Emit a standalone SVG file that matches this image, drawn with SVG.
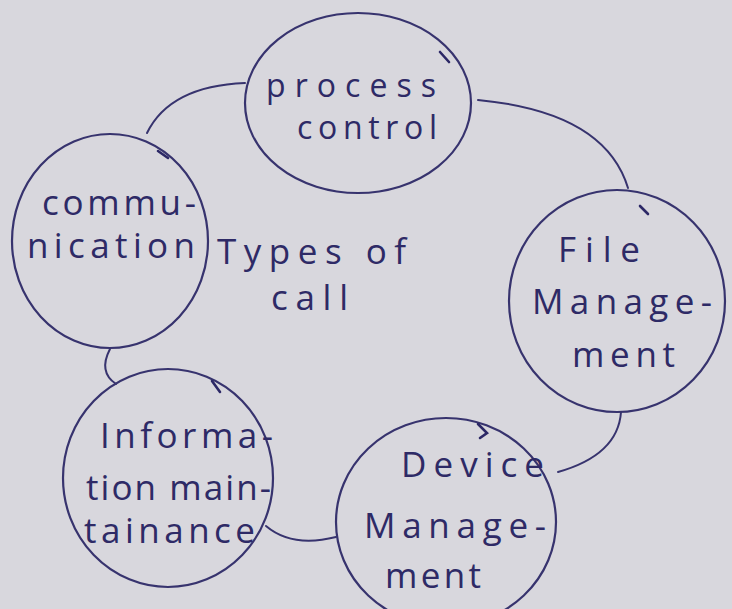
<svg xmlns="http://www.w3.org/2000/svg" width="732" height="609" viewBox="0 0 732 609">
  <style>
    .ring { fill: none; stroke: #37336e; stroke-width: 2.2; }
    .link { fill: none; stroke: #37336e; stroke-width: 2; stroke-linecap: round; }
    .tick { fill: none; stroke: #2c2866; stroke-width: 2.6; stroke-linecap: round; }
    .hand { font-family: "Open Sans", "DejaVu Sans", sans-serif; font-size: 35px; fill: #2e2a66; font-weight: 400; }
    .small { font-size: 32px; }
  </style>
  <!-- paper -->
  <rect x="0" y="0" width="732" height="609" fill="#d8d7dd"/>

  <!-- connectors between the five call types -->
  <g id="connectors">
    <path class="link" d="M147,133 Q170,86 245,83"/>
    <path class="link" d="M478,100 Q605,112 628,188"/>
    <path class="link" d="M621,412 Q618,455 558,472"/>
    <path class="link" d="M266,526 Q292,548 336,537"/>
    <path class="link" d="M110,349 Q98,372 116,384"/>
  </g>

  <g id="process-control">
    <ellipse class="ring" cx="358" cy="103" rx="113" ry="90"/>
    <path class="tick" d="M440,52 L449,62"/>
    <text class="hand small" x="266" y="97" textLength="170" lengthAdjust="spacing">process</text>
    <text class="hand small" x="297" y="139" textLength="140" lengthAdjust="spacing">control</text>
  </g>

  <g id="file-management">
    <ellipse class="ring" cx="617" cy="301" rx="108" ry="111"/>
    <path class="tick" d="M640,206 L648,214"/>
    <text class="hand" x="558" y="262" textLength="82" lengthAdjust="spacing">File</text>
    <text class="hand" x="532" y="314" textLength="180" lengthAdjust="spacing">Manage-</text>
    <text class="hand" x="572" y="367" textLength="103" lengthAdjust="spacing">ment</text>
  </g>

  <g id="device-management">
    <ellipse class="ring" cx="446" cy="522" rx="110" ry="104"/>
    <path class="tick" d="M478,424 L487,433 L480,438"/>
    <text class="hand" x="401" y="477" textLength="143" lengthAdjust="spacing">Device</text>
    <text class="hand" x="364" y="538" textLength="182" lengthAdjust="spacing">Manage-</text>
    <text class="hand" x="385" y="588" textLength="96" lengthAdjust="spacing">ment</text>
  </g>

  <g id="information-maintenance">
    <ellipse class="ring" cx="168" cy="478" rx="105" ry="109"/>
    <path class="tick" d="M212,381 L220,392"/>
    <text class="hand" x="100" y="448" textLength="173" lengthAdjust="spacing">Informa-</text>
    <text class="hand" x="86" y="500" textLength="185" lengthAdjust="spacing">tion main-</text>
    <text class="hand" x="84" y="543" textLength="171" lengthAdjust="spacing">tainance</text>
  </g>

  <g id="communication">
    <ellipse class="ring" cx="110" cy="241" rx="98" ry="107"/>
    <path class="tick" d="M158,151 L168,158"/>
    <text class="hand" x="42" y="215" textLength="154" lengthAdjust="spacing">commu-</text>
    <text class="hand" x="27" y="258" textLength="168" lengthAdjust="spacing">nication</text>
  </g>

  <g id="types-of-call">
    <text class="hand" x="217" y="264" textLength="189" lengthAdjust="spacing">Types of</text>
    <text class="hand" x="271" y="310" textLength="77" lengthAdjust="spacing">call</text>
  </g>
</svg>
